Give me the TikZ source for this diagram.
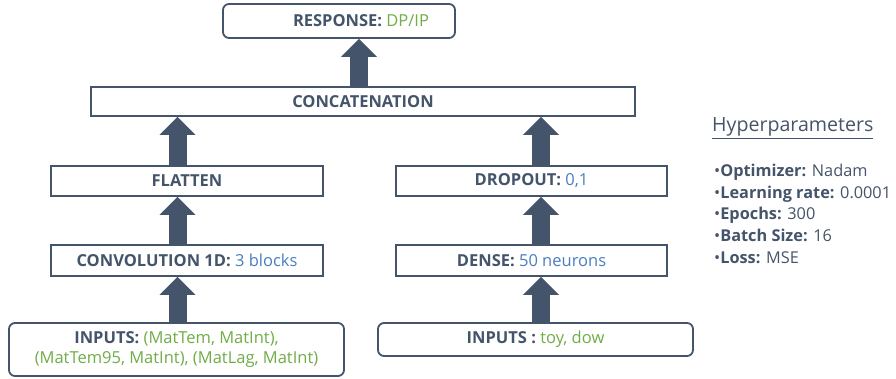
\documentclass[tikz,border=0pt]{standalone}
\usepackage{fontspec}
\setmainfont{Open Sans}
\usetikzlibrary{arrows.meta}
\definecolor{slate}{HTML}{44546A}
\definecolor{grn}{HTML}{70AD47}
\definecolor{blu}{HTML}{4A7EC2}
\tikzset{
  box/.style={draw=slate, line width=1.8pt, fill=white, inner sep=0pt, text=slate,
    font=\fontsize{16.5}{20}\selectfont, anchor=center, align=center},
  rbox/.style={box, rounded corners=6pt},
  flow/.style={draw=slate, line width=18pt, -{Triangle[width=35pt,length=18pt]}},
  hp/.style={anchor=base west, inner sep=0pt, text=slate, font=\fontsize{16.3}{19}\selectfont},
}
\begin{document}
\begin{tikzpicture}[x=1pt,y=-1pt]
\useasboundingbox (0,0) rectangle (896,379);
% boxes
\node[rbox, minimum width=232pt, minimum height=34pt] (resp) at (339,21) {};
\node[text=slate, font=\fontsize{16.5}{20}\selectfont, inner sep=0pt] (resptext) at (361,21) {\textbf{RESPONSE:} \textcolor{grn}{DP/IP}};
\node[box, minimum width=544pt, minimum height=29pt] (concat) at (363,101.5) {\textbf{CONCATENATION}};
\node[box, minimum width=272pt, minimum height=30pt] (flatten) at (187,181) {\textbf{FLATTEN}};
\node[box, minimum width=271pt, minimum height=30pt] (dropout) at (531.5,181) {\textbf{DROPOUT:} \textcolor{blu}{0,1}};
\node[box, minimum width=272pt, minimum height=31pt] (conv) at (187,260.5) {\textbf{CONVOLUTION 1D:} \textcolor{blu}{3 blocks}};
\node[box, minimum width=271pt, minimum height=31pt] (dense) at (531.5,260.5) {\textbf{DENSE:} \textcolor{blu}{50 neurons}};
\node[rbox, minimum width=335pt, minimum height=53pt] (inL) at (176.5,349.5) {\textbf{INPUTS:} \textcolor{grn}{(MatTem, MatInt),}\\ \textcolor{grn}{(MatTem95, MatInt), (MatLag, MatInt)}};
\node[rbox, minimum width=315pt, minimum height=33pt] (inR) at (535.5,339.5) {\textbf{INPUTS :} \textcolor{grn}{toy, dow}};
% arrow axes
\coordinate (lx) at (177.5,0);
\coordinate (rx) at (541,0);
\coordinate (cx) at (359,0);
% connectors
\draw[flow] (inL.north -| lx) -- (conv.south -| lx);
\draw[flow] (conv.north -| lx) -- (flatten.south -| lx);
\draw[flow] (flatten.north -| lx) -- (concat.south -| lx);
\draw[flow] (inR.north -| rx) -- (dense.south -| rx);
\draw[flow] (dense.north -| rx) -- (dropout.south -| rx);
\draw[flow] (dropout.north -| rx) -- (concat.south -| rx);
\draw[flow] (concat.north -| cx) -- (resp.south -| cx);
% hyperparameters
\node[anchor=base west, inner sep=0pt, text=slate, font=\fontsize{19.6}{23}\selectfont] (hptitle) at (712,132) {\underline{Hyperparameters}};
\node[hp] (h1) at (714,177) {•\textbf{Optimizer:} Nadam};
\node[hp] (h2) at (714,198.5) {•\textbf{Learning rate:} 0.0001};
\node[hp] (h3) at (714,220) {•\textbf{Epochs:} 300};
\node[hp] (h4) at (714,241.5) {•\textbf{Batch Size:} 16};
\node[hp] (h5) at (714,263) {•\textbf{Loss:} MSE};
\end{tikzpicture}
\end{document}
